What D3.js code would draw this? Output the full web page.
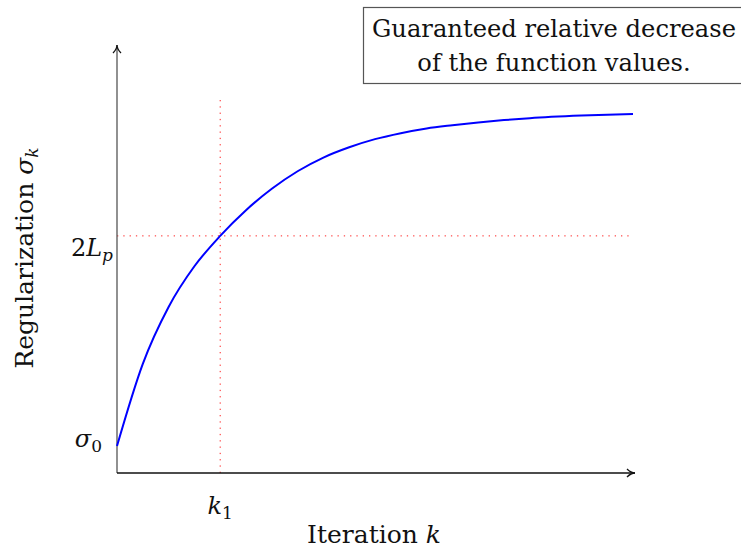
<!DOCTYPE html>
<html>
<head>
<meta charset="utf-8">
<script src="https://cdn.jsdelivr.net/npm/d3@7"></script>
<style>
  body { margin: 0; background: #fff; }
  text { font-family: "DejaVu Serif", "Liberation Serif", serif; fill: #111; }
</style>
</head>
<body>
<div id="chart"></div>
<script>
// values (iteration k, regularization sigma_k)
var iterations = [0, 0.5, 1, 1.5, 2, 2.5, 3, 3.5, 4, 4.5, 5, 5.5, 6, 6.5, 7, 7.5, 8, 9, 10];
var sigmas     = [0.63, 2.55, 3.88, 4.83, 5.54, 6.14, 6.64, 7.05, 7.37, 7.61, 7.80, 7.94, 8.05, 8.125, 8.19, 8.245, 8.29, 8.35, 8.39];
var k1 = 2;          // vertical marker
var twoLp = 5.54;    // horizontal marker
var sigma0 = 0.63;
var markerTop = 8.8;
var boxLines = ["Guaranteed relative decrease", "of the function values."];

var width = 741, height = 550;
var margin = { left: 117, top: 45, right: 108, bottom: 77 };

var svg = d3.select("#chart")
  .append("svg")
    .attr("width", width)
    .attr("height", height);

// scales
var x = d3.scaleLinear()
  .domain([0, 10])
  .range([margin.left, width - margin.right]);

var y = d3.scaleLinear()
  .domain([0, 10])
  .range([height - margin.bottom, margin.top]);

var data = iterations.map((k, i) => ({ k: k, s: sigmas[i] }));

// arrow head
svg.append("defs").append("marker")
  .attr("id", "arrow")
  .attr("viewBox", "0 0 10 10")
  .attr("refX", 9).attr("refY", 5)
  .attr("markerWidth", 10).attr("markerHeight", 10)
  .attr("markerUnits", "userSpaceOnUse")
  .attr("orient", "auto")
  .append("path")
    .attr("d", "M1,1 Q5,5 9,5 Q5,5 1,9")
    .attr("fill", "none")
    .attr("stroke", "#111")
    .attr("stroke-width", 1.3);

// dotted marker lines
svg.append("line")
  .attr("x1", x(0)).attr("x2", x(10))
  .attr("y1", y(twoLp)).attr("y2", y(twoLp))
  .attr("stroke", "#ff2020")
  .attr("stroke-width", 1)
  .attr("stroke-dasharray", "1.3 5");

svg.append("line")
  .attr("x1", x(k1)).attr("x2", x(k1))
  .attr("y1", y(0)).attr("y2", y(markerTop))
  .attr("stroke", "#ff2020")
  .attr("stroke-width", 1)
  .attr("stroke-dasharray", "1.3 5");

// axes (plain arrows, no ticks)
svg.append("line")
  .attr("x1", x(0)).attr("x2", x(0))
  .attr("y1", y(0)).attr("y2", y(10))
  .attr("stroke", "#555")
  .attr("stroke-width", 1.3)
  .attr("marker-end", "url(#arrow)");

svg.append("line")
  .attr("x1", x(0)).attr("x2", x(10) + 2)
  .attr("y1", y(0)).attr("y2", y(0))
  .attr("stroke", "#111")
  .attr("stroke-width", 1.3)
  .attr("marker-end", "url(#arrow)");

// the curve
var line = d3.line()
  .x(d => x(d.k))
  .y(d => y(d.s))
  .curve(d3.curveMonotoneX);

svg.append("path")
  .datum(data)
  .attr("d", line)
  .attr("fill", "none")
  .attr("stroke", "#0000ff")
  .attr("stroke-width", 2);

// tick-like labels
var s0 = svg.append("text")
  .attr("x", x(0) - 15).attr("y", y(sigma0) + 1)
  .attr("text-anchor", "end")
  .style("font-size", "24px");
s0.append("tspan").style("font-style", "italic").text("σ");
s0.append("tspan").attr("dy", 5).style("font-size", "17px").text("0");

var lp = svg.append("text")
  .attr("x", x(0) - 4).attr("y", y(twoLp) + 20)
  .attr("text-anchor", "end")
  .style("font-size", "24px");
lp.append("tspan").text("2");
lp.append("tspan").style("font-style", "italic").text("L");
lp.append("tspan").attr("dy", 5).style("font-size", "17px").style("font-style", "italic").text("p");

var kl = svg.append("text")
  .attr("x", x(k1)).attr("y", y(0) + 41)
  .attr("text-anchor", "middle")
  .style("font-size", "24px");
kl.append("tspan").style("font-style", "italic").text("k");
kl.append("tspan").attr("dy", 5).style("font-size", "17px").text("1");

// axis titles
var xt = svg.append("text")
  .attr("x", 374).attr("y", 543)
  .attr("text-anchor", "middle")
  .style("font-size", "25px");
xt.append("tspan").text("Iteration ");
xt.append("tspan").style("font-style", "italic").text("k");

var yt = svg.append("text")
  .attr("transform", "translate(33,258) rotate(-90)")
  .attr("text-anchor", "middle")
  .style("font-size", "25px");
yt.append("tspan").text("Regularization ");
yt.append("tspan").style("font-style", "italic").text("σ");
yt.append("tspan").attr("dy", 5).style("font-size", "17px").style("font-style", "italic").text("k");

// annotation box
svg.append("rect")
  .attr("x", 363.5).attr("y", 7.5)
  .attr("width", 400).attr("height", 76)
  .attr("fill", "#fff")
  .attr("stroke", "#555")
  .attr("stroke-width", 1.2);

svg.selectAll(".box-text")
  .data(boxLines)
  .enter()
    .append("text")
    .attr("class", "box-text")
    .attr("x", 554)
    .attr("y", (d, i) => 37 + i * 34)
    .attr("text-anchor", "middle")
    .style("font-size", "24.2px")
    .text(d => d);
</script>
</body>
</html>
